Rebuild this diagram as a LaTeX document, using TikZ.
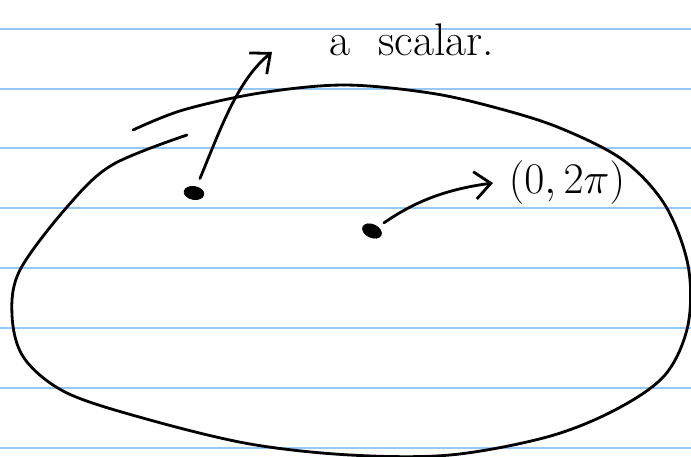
\documentclass[tikz,border=0pt]{standalone}
\usepackage{tikz}
\usetikzlibrary{arrows.meta,shapes.geometric}
\definecolor{ruleblue}{RGB}{150,200,245}

\begin{document}
\begin{tikzpicture}[x=0.02cm,y=-0.02cm,>={Straight Barb[length=3.2mm,width=5.5mm]},
  pen/.style={line width=1.6pt,line cap=round,line join=round},
  blob/.style={draw=black,fill=black,ellipse,inner sep=0pt,minimum width=0.4cm,minimum height=0.26cm},
  note/.style={inner sep=0pt,font=\fontsize{26}{30}\selectfont}]
\useasboundingbox (0,0) rectangle (691,457);
% ruled paper
\foreach \y in {29,89,148,208,268,328,388,448}
  \draw[ruleblue,line width=1.2pt] (0,\y)--(691,\y);
% the region
\draw[pen] plot[smooth,tension=0.55] coordinates {(133,130) (183,110) (260,93) (344,85) (430,93) (497,108) (560,128) (623,160) (665,205) (688,265) (688,325) (665,375) (615,410) (547,437) (450,455) (350,455) (250,444) (150,420) (67,393) (24,358) (12,315) (20,270) (67,207) (112,165) (187,135)};
% points
\node[blob,rotate=-10] (d1) at (194,193) {};
\node[blob,rotate=-25] (d2) at (372,231) {};
\coordinate (tip1) at (272,52);
\coordinate (tip2) at (493,183);
\node[note] (scalar) at (412,40) {a\hspace{0.6em}scalar.};
\node[note] (range) at (567,183) {$(0,2\pi)$};
\draw[pen,->,shorten <=5pt] (d1) .. controls (222,125) and (238,80) .. (tip1);
\draw[pen,->,shorten <=4pt] (d2) .. controls (410,205) and (440,190) .. (tip2);
\end{tikzpicture}
\end{document}
